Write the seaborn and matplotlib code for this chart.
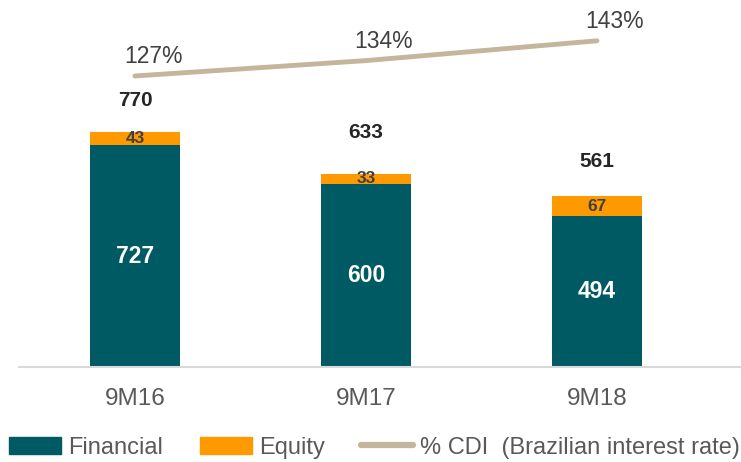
import matplotlib
matplotlib.use("Agg")
import matplotlib.pyplot as plt
import matplotlib.patches as mpatches
import matplotlib.lines as mlines
import numpy as np
import seaborn as sns

# Data
periods = ["9M16", "9M17", "9M18"]
financial = [727, 600, 494]
equity = [43, 33, 67]
totals = [770, 633, 561]
cdi_pct = [127, 134, 143]

# vertical offsets (points) of the total labels above each bar
total_dy = [23, 30, 25]

teal = "#005A64"
orange = "#FF9900"
tan = "#C4B69C"
gray_txt = "#595959"
dark_txt = "#404040"

sns.set_style("white")
plt.rcParams["font.family"] = ["Liberation Sans", "DejaVu Sans"]

fig = plt.figure(figsize=(7.41, 4.62), dpi=100)
ax = fig.add_axes([19 / 741, 95 / 462, 721 / 741, 357 / 462])

# stacked bars: total (orange) underneath, financial (teal) on top
sns.barplot(x=periods, y=totals, color=orange, width=0.388, saturation=1,
            linewidth=0, ax=ax)
sns.barplot(x=periods, y=financial, color=teal, width=0.388, saturation=1,
            linewidth=0, ax=ax)

ax.set_xlim(-0.502, 2.619)
ax.set_ylim(0, 1170)
ax.set_yticks([])
for s in ["top", "right", "left"]:
    ax.spines[s].set_visible(False)
ax.spines["bottom"].set_color("#D9D9D9")
ax.spines["bottom"].set_linewidth(1.5)
ax.tick_params(axis="x", length=0, pad=15, labelsize=17.5, labelcolor=gray_txt)

for i, (f, e, t) in enumerate(zip(financial, equity, totals)):
    ax.text(i, f / 2, str(f), ha="center", va="center", color="white",
            fontsize=16.5, fontweight="bold")
    ax.text(i, f + e / 2, str(e), ha="center", va="center", color=dark_txt,
            fontsize=12.5, fontweight="bold")
    ax.annotate(str(t), (i, t), xytext=(0, total_dy[i]), textcoords="offset points",
                ha="center", va="center", color="#262626", fontsize=15,
                fontweight="bold")

# % CDI line on secondary axis
ax2 = ax.twinx()
sns.lineplot(x=np.arange(len(periods)), y=cdi_pct, color=tan, linewidth=3.5,
             solid_capstyle="round", ax=ax2)
ax2.set_ylim(-5.3, 157)
ax2.set_yticks([])
for s in ax2.spines.values():
    s.set_visible(False)
for i, v in enumerate(cdi_pct):
    ax2.annotate(f"{v}%", (i, v), xytext=(13, 14), textcoords="offset points",
                 ha="center", va="center", color=dark_txt, fontsize=16.5)

handles = [
    mpatches.Patch(color=teal, label="Financial"),
    mpatches.Patch(color=orange, label="Equity"),
    mlines.Line2D([], [], color=tan, linewidth=4.5, solid_capstyle="round",
                  label="% CDI  (Brazilian interest rate)"),
]
fig.legend(handles=handles, loc="lower left", bbox_to_anchor=(0.0, -0.013), ncol=3,
           frameon=False, fontsize=17, handlelength=2.2, handletextpad=0.3,
           columnspacing=1.55, labelcolor=gray_txt, borderaxespad=0.2,
           borderpad=0.2)

fig.savefig("out.png", dpi=100)
